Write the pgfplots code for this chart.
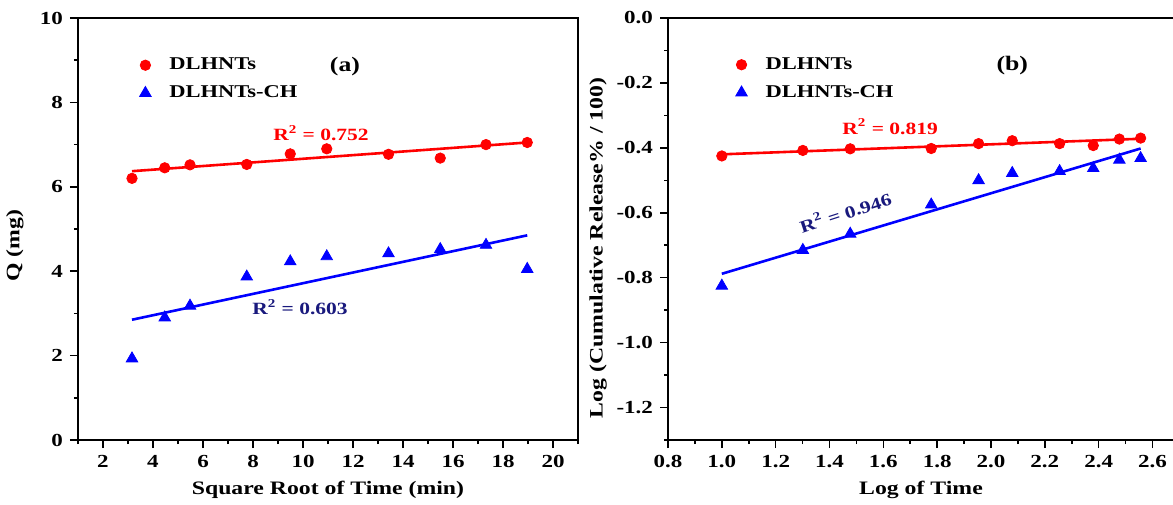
\documentclass[border=0pt]{standalone}
\usepackage{pgfplots}
\pgfplotsset{compat=1.18}
\usepackage{fontspec}
\setmainfont{Liberation Serif}[FakeStretch=1.25]
\definecolor{navyR}{RGB}{25,25,125}
\pgfplotsset{
 mystyle/.style={
  scale only axis,
  axis line style={line width=0.8pt},
  every tick/.style={line width=0.8pt, black},
  major tick length=4pt, minor tick length=2pt,
  tick align=outside,
  xtick pos=bottom, ytick pos=left,
  ticklabel style={font=\fontsize{9.2}{10}\selectfont\bfseries},
  /pgf/number format/assume math mode=true,
  label style={font=\fontsize{9.5}{11}\selectfont\bfseries},
  legend style={draw=none, fill=none, font=\fontsize{9.0}{11}\selectfont\bfseries, row sep=2.5pt, inner sep=0pt},
  legend cell align=left,
  legend image code/.code={\path[draw=none,fill=none] (0pt,-2pt) rectangle (14pt,2pt);
     \draw[mark repeat=2,mark phase=2,##1] plot coordinates {(0pt,0pt)(4pt,0pt)(8pt,0pt)};},
  xlabel style={at={(axis description cs:0.5,0)}, anchor=center, yshift=-25pt},
 }
}
\begin{document}
\begin{tikzpicture}
\useasboundingbox (0,0) rectangle (586.5pt,252pt);
% ---------------- (a)
\begin{axis}[mystyle, at={(39pt,32pt)}, anchor=south west,
  width=250pt, height=211pt,
  xmin=1, xmax=21, ymin=0, ymax=10,
  xtick={2,4,...,20}, minor xtick={1,3,...,21},
  ytick={0,2,...,10}, minor ytick={1,3,...,9},
  xlabel={Square Root of Time (min)},
  ylabel={Q (mg)},
  ylabel style={at={(axis description cs:-0.126,0.46)}, anchor=center},
  legend style={at={(axis cs:3.36,8.55)}, anchor=west},
]
\addplot[only marks, mark=*, mark size=2.6pt, color=red] coordinates {
(3.16,6.20) (4.47,6.45) (5.48,6.52) (7.75,6.53) (9.49,6.78) (10.95,6.90) (13.42,6.77) (15.49,6.68) (17.32,7.00) (18.97,7.05)};
\addlegendentry{DLHNTs}
\addplot[only marks, mark=triangle*, mark size=3.3pt, color=blue] coordinates {
(3.16,1.93) (4.47,2.90) (5.48,3.18) (7.75,3.87) (9.49,4.23) (10.95,4.35) (13.42,4.42) (15.49,4.52) (17.32,4.62) (18.97,4.05)};
\addlegendentry{DLHNTs-CH}
\addplot[red, line width=1.3pt, forget plot] coordinates {(3.16,6.37) (18.97,7.05)};
\addplot[blue, line width=1.3pt, forget plot] coordinates {(3.16,2.85) (18.97,4.85)};
\node[font=\fontsize{10.3}{12}\selectfont\bfseries] at (axis cs:11.68,8.84) {(a)};
\node[font=\fontsize{8.6}{10}\selectfont\bfseries, text=red] at (axis cs:10.72,7.27) {R\textsuperscript{2} = 0.752};
\node[font=\fontsize{8.6}{10}\selectfont\bfseries, text=navyR] at (axis cs:9.88,3.15) {R\textsuperscript{2} = 0.603};
\end{axis}
% ---------------- (b)
\begin{axis}[mystyle, at={(334pt,32pt)}, anchor=south west,
  width=253pt, height=211pt,
  xmin=0.8, xmax=2.68, ymin=-1.3, ymax=0,
  xtick={0.8,1.0,1.2,1.4,1.6,1.8,2.0,2.2,2.4,2.6},
  minor xtick={0.9,1.1,1.3,1.5,1.7,1.9,2.1,2.3,2.5},
  ytick={-1.2,-1.0,-0.8,-0.6,-0.4,-0.2,0},
  minor ytick={-1.3,-1.1,-0.9,-0.7,-0.5,-0.3,-0.1},
  xticklabel style={/pgf/number format/.cd, fixed, fixed zerofill, precision=1},
  yticklabel style={/pgf/number format/.cd, fixed, fixed zerofill, precision=1},
  xlabel={Log of Time},
  ylabel={Log (Cumulative Release\% / 100)},
  ylabel style={at={(axis description cs:-0.138,0.455)}, anchor=center},
  legend style={at={(axis cs:1.042,-0.187)}, anchor=west},
]
\addplot[only marks, mark=*, mark size=2.6pt, color=red] coordinates {
(1.000,-0.425) (1.301,-0.408) (1.477,-0.403) (1.778,-0.402) (1.954,-0.387) (2.079,-0.378) (2.255,-0.387) (2.380,-0.393) (2.477,-0.373) (2.556,-0.370)};
\addlegendentry{DLHNTs}
\addplot[only marks, mark=triangle*, mark size=3.3pt, color=blue] coordinates {
(1.000,-0.825) (1.301,-0.715) (1.477,-0.665) (1.778,-0.575) (1.954,-0.500) (2.079,-0.478) (2.255,-0.472) (2.380,-0.463) (2.477,-0.437) (2.556,-0.432)};
\addlegendentry{DLHNTs-CH}
\addplot[red, line width=1.3pt, forget plot] coordinates {(1.0,-0.420) (2.556,-0.372)};
\addplot[blue, line width=1.3pt, forget plot] coordinates {(1.0,-0.788) (2.556,-0.402)};
\node[font=\fontsize{10.3}{12}\selectfont\bfseries] at (axis cs:2.079,-0.148) {(b)};
\node[font=\fontsize{8.6}{10}\selectfont\bfseries, text=red] at (axis cs:1.625,-0.334) {R\textsuperscript{2} = 0.819};
\node[font=\fontsize{8.6}{10}\selectfont\bfseries, text=navyR, rotate=18] at (axis cs:1.458,-0.597) {R\textsuperscript{2} = 0.946};
\end{axis}
\end{tikzpicture}
\end{document}
